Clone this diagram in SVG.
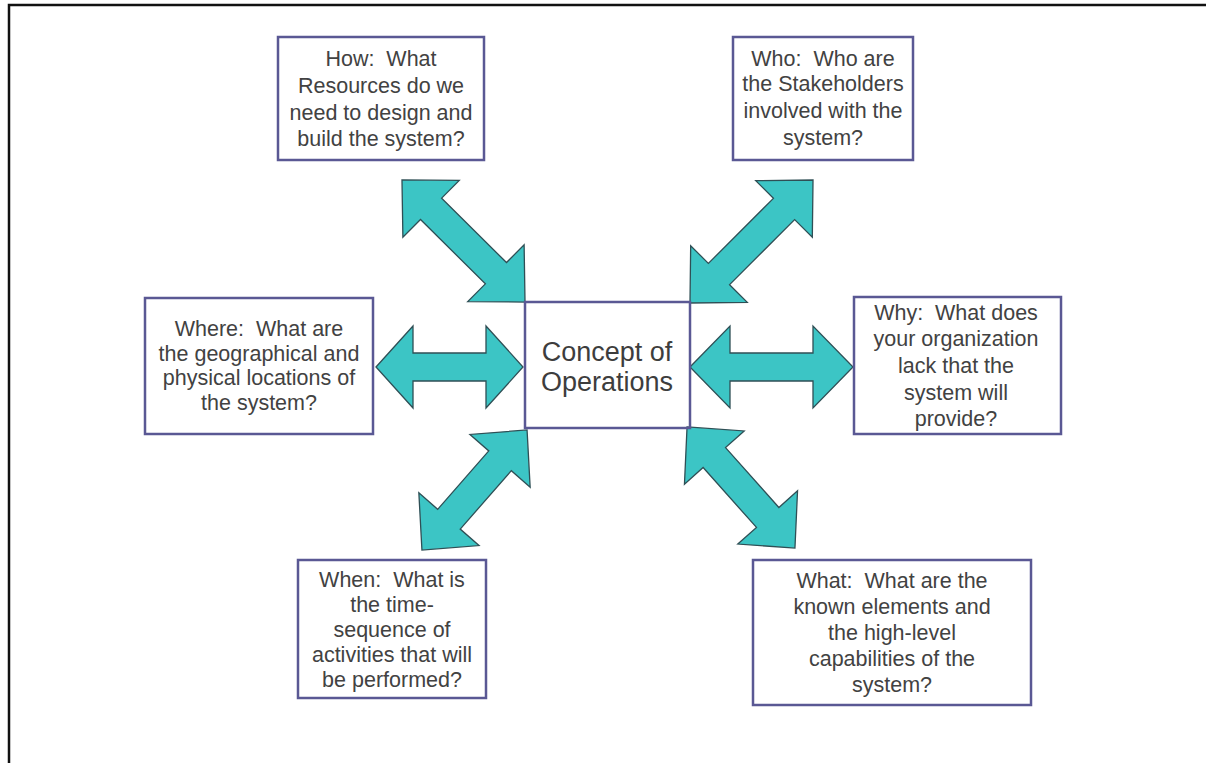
<svg xmlns="http://www.w3.org/2000/svg" width="1206" height="763" viewBox="0 0 1206 763">
<style>
.box{fill:#ffffff;stroke:#5a5894;stroke-width:2.5}
.t{font-family:"Liberation Sans",Arial,sans-serif;font-size:21.5px;fill:#424242;text-anchor:middle;white-space:pre}
.ct{font-family:"Liberation Sans",Arial,sans-serif;font-size:27px;fill:#3d3d3d;text-anchor:middle}
.arr{fill:#3cc5c5;stroke:#2f4f55;stroke-width:1.3;stroke-linejoin:miter}
</style>
<rect x="0" y="0" width="1206" height="763" fill="#ffffff"/>
<rect x="9" y="5" width="1260" height="820" fill="none" stroke="#111" stroke-width="2.5"/>
<g id="connectors">
<path class="arr" transform="translate(463.5,241) rotate(44.8)" d="M-86.7,0 L-45.7,-40 L-45.7,-15 L45.7,-15 L45.7,-40 L86.7,0 L45.7,40 L45.7,15 L-45.7,15 L-45.7,40 Z"/>
<path class="arr" transform="translate(751.5,241.5) rotate(-45)" d="M-87,0 L-46,-40 L-46,-15 L46,-15 L46,-40 L87,0 L46,40 L46,15 L-46,15 L-46,40 Z"/>
<path class="arr" transform="translate(449.5,367)" d="M-73.5,0 L-36.5,-41 L-36.5,-14 L36.5,-14 L36.5,-41 L73.5,0 L36.5,41 L36.5,14 L-36.5,14 L-36.5,41 Z"/>
<path class="arr" transform="translate(771.5,367)" d="M-81.5,0 L-41.5,-41 L-41.5,-14 L41.5,-14 L41.5,-41 L81.5,0 L41.5,41 L41.5,14 L-41.5,14 L-41.5,41 Z"/>
<path class="arr" transform="translate(474.5,490) rotate(-48.8)" d="M-79.8,0 L-38.8,-40 L-38.8,-15 L38.8,-15 L38.8,-40 L79.8,0 L38.8,40 L38.8,15 L-38.8,15 L-38.8,40 Z"/>
<path class="arr" transform="translate(741,487.5) rotate(48.3)" d="M-81.1,0 L-40.1,-40 L-40.1,-15 L40.1,-15 L40.1,-40 L81.1,0 L40.1,40 L40.1,15 L-40.1,15 L-40.1,40 Z"/>
</g>
<g id="center">
<rect x="525" y="302" width="165" height="126" fill="none" stroke="#5a5894" stroke-width="2.5"/>
<text class="ct" x="607" y="361">Concept of</text>
<text class="ct" x="607" y="391">Operations</text>
</g>
<g id="how">
<rect class="box" x="278" y="37" width="206" height="123"/>
<text class="t" x="381" y="66" xml:space="preserve">How:  What</text>
<text class="t" x="381" y="93">Resources do we</text>
<text class="t" x="381" y="120">need to design and</text>
<text class="t" x="381" y="146">build the system?</text>
</g>
<g id="who">
<rect class="box" x="733" y="37" width="180" height="123"/>
<text class="t" x="823" y="66" xml:space="preserve">Who:  Who are</text>
<text class="t" x="823" y="91">the Stakeholders</text>
<text class="t" x="823" y="118">involved with the</text>
<text class="t" x="823" y="145">system?</text>
</g>
<g id="where">
<rect class="box" x="145" y="298" width="228" height="136"/>
<text class="t" x="259" y="336" xml:space="preserve">Where:  What are</text>
<text class="t" x="259" y="361">the geographical and</text>
<text class="t" x="259" y="385">physical locations of</text>
<text class="t" x="259" y="410">the system?</text>
</g>
<g id="why">
<rect class="box" x="854" y="297" width="207" height="137"/>
<text class="t" x="956" y="320" xml:space="preserve">Why:  What does</text>
<text class="t" x="956" y="346">your organization</text>
<text class="t" x="956" y="373">lack that the</text>
<text class="t" x="956" y="400">system will</text>
<text class="t" x="956" y="426">provide?</text>
</g>
<g id="when">
<rect class="box" x="298" y="560" width="188" height="138"/>
<text class="t" x="392" y="587" xml:space="preserve">When:  What is</text>
<text class="t" x="392" y="612">the time-</text>
<text class="t" x="392" y="637">sequence of</text>
<text class="t" x="392" y="662">activities that will</text>
<text class="t" x="392" y="687">be performed?</text>
</g>
<g id="what">
<rect class="box" x="753" y="560" width="278" height="145"/>
<text class="t" x="892" y="588" xml:space="preserve">What:  What are the</text>
<text class="t" x="892" y="614">known elements and</text>
<text class="t" x="892" y="640">the high-level</text>
<text class="t" x="892" y="666">capabilities of the</text>
<text class="t" x="892" y="692">system?</text>
</g>
</svg>
